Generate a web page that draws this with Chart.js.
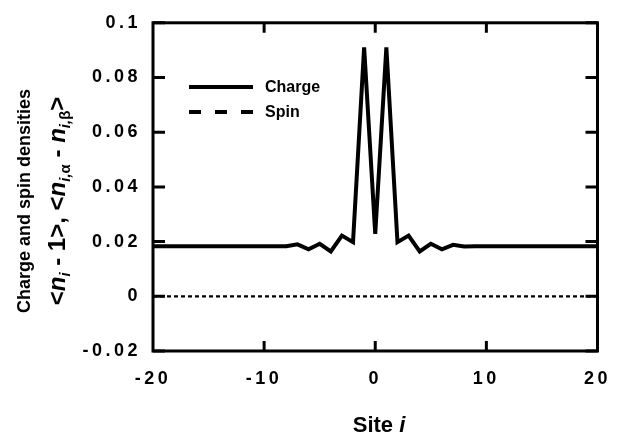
<!DOCTYPE html>
<html><head><meta charset="utf-8">
<script src="https://cdn.jsdelivr.net/npm/chart.js@4/dist/chart.umd.min.js"></script>
<style>html,body{margin:0;padding:0;background:#fff}</style>
</head><body>
<canvas id="c" width="628" height="436"></canvas>
<script>
// ---- data ----
const sites = [-20,-19,-18,-17,-16,-15,-14,-13,-12,-11,-10,-9,-8,-7,-6,-5,-4,-3,-2,-1,0,1,2,3,4,5,6,7,8,9,10,11,12,13,14,15,16,17,18,19,20];
const charge = [0.0183,0.0183,0.0183,0.0183,0.0183,0.0183,0.0183,0.0183,0.0183,0.0183,0.0183,0.0183,0.0183,0.0190,0.0172,0.0192,0.0164,0.0222,0.0198,0.0910,0.0228,0.0910,0.0198,0.0222,0.0164,0.0192,0.0172,0.0188,0.0182,0.0183,0.0183,0.0183,0.0183,0.0183,0.0183,0.0183,0.0183,0.0183,0.0183,0.0183,0.0183];
const spin = [0,0,0,0,0,0,0,0,0,0,0,0,0,0,0,0,0,0,0,0,0,0,0,0,0,0,0,0,0,0,0,0,0,0,0,0,0,0,0,0,0];
const xTicks = [-20,-10,0,10,20];
const xTickLabels = ['-20','-10','0','10','20'];
const yTicks = [-0.02,0,0.02,0.04,0.06,0.08,0.1];
const yTickLabels = ['-0.02','0','0.02','0.04','0.06','0.08','0.1'];
const seriesNames = ['Charge','Spin'];

const FONT = '"Liberation Sans", Arial, Helvetica, sans-serif';

const frame = {
  id: 'frame',
  beforeUpdate(chart) { chart.ctx.letterSpacing = '3.5px'; },
  afterDraw(chart) {
    const ctx = chart.ctx, a = chart.chartArea, xs = chart.scales.x, ys = chart.scales.y;
    ctx.save();
    ctx.letterSpacing = '0px';
    ctx.strokeStyle = '#000';
    ctx.lineWidth = 3;
    ctx.setLineDash([]);
    ctx.strokeRect(a.left, a.top, a.right - a.left, a.bottom - a.top);
    ctx.beginPath();
    yTicks.forEach(v => { const y = ys.getPixelForValue(v);
      ctx.moveTo(a.left, y); ctx.lineTo(a.left + 12, y);
      ctx.moveTo(a.right, y); ctx.lineTo(a.right - 12, y); });
    xTicks.slice(1, -1).forEach(v => { const x = xs.getPixelForValue(v);
      ctx.moveTo(x, a.top); ctx.lineTo(x, a.top + 10);
      ctx.moveTo(x, a.bottom); ctx.lineTo(x, a.bottom - 10); });
    ctx.stroke();

    // legend
    ctx.lineWidth = 4;
    ctx.beginPath(); ctx.moveTo(189, 87); ctx.lineTo(253, 87); ctx.stroke();
    ctx.setLineDash([12, 14]);
    ctx.beginPath(); ctx.moveTo(189, 112); ctx.lineTo(253, 112); ctx.stroke();
    ctx.setLineDash([]);
    ctx.fillStyle = '#000';
    ctx.font = 'bold 16px ' + FONT;
    ctx.textAlign = 'left'; ctx.textBaseline = 'middle';
    ctx.fillText(seriesNames[0], 265, 88);
    ctx.fillText(seriesNames[1], 265, 113);

    // x title
    ctx.font = 'bold 22px ' + FONT;
    ctx.textBaseline = 'alphabetic';
    const w1 = ctx.measureText('Site ').width;
    ctx.font = 'bold italic 22px ' + FONT;
    const w2 = ctx.measureText('i').width;
    let sx = 379 - (w1 + w2) / 2;
    ctx.font = 'bold 22px ' + FONT;
    ctx.fillText('Site ', sx, 432);
    ctx.font = 'bold italic 22px ' + FONT;
    ctx.fillText('i', sx + w1, 432);

    // y title line 1
    ctx.save();
    ctx.translate(25, 201);
    ctx.rotate(-Math.PI / 2);
    ctx.font = 'bold 18px ' + FONT;
    ctx.textAlign = 'center'; ctx.textBaseline = 'middle';
    ctx.fillText('Charge and spin densities', 0, 0);
    ctx.restore();

    // y title line 2 with subscripts
    const segs = [
      ['<', 'bold', 24, 0], ['n', 'bold italic', 24, 0], ['i', 'bold italic', 15, 5],
      [' - 1>, <', 'bold', 24, 0], ['n', 'bold italic', 24, 0], ['i,', 'bold italic', 15, 5], ['\u03B1', 'bold', 15, 5],
      [' - ', 'bold', 24, 0], ['n', 'bold italic', 24, 0], ['i,', 'bold italic', 15, 5], ['\u03B2', 'bold', 15, 5],
      ['>', 'bold', 24, 0]
    ];
    let total = 0;
    segs.forEach(s => { ctx.font = s[1] + ' ' + s[2] + 'px ' + FONT; total += ctx.measureText(s[0]).width; });
    ctx.save();
    ctx.translate(65, 201);
    ctx.rotate(-Math.PI / 2);
    ctx.textAlign = 'left'; ctx.textBaseline = 'alphabetic';
    let px = -total / 2;
    segs.forEach(s => { ctx.font = s[1] + ' ' + s[2] + 'px ' + FONT; ctx.fillText(s[0], px, s[3]); px += ctx.measureText(s[0]).width; });
    ctx.restore();

    ctx.restore();
  }
};

new Chart(document.getElementById('c'), {
  type: 'line',
  data: {
    datasets: [
      { label: seriesNames[0], data: sites.map((s, i) => ({ x: s, y: charge[i] })),
        borderColor: '#000', borderWidth: 4, pointRadius: 0, tension: 0, fill: false,
        borderJoinStyle: 'miter', borderCapStyle: 'butt' },
      { label: seriesNames[1], data: sites.map((s, i) => ({ x: s, y: spin[i] })),
        borderColor: '#000', borderWidth: 2.2, borderDash: [4, 3], pointRadius: 0, tension: 0, fill: false }
    ]
  },
  options: {
    responsive: false,
    animation: false,
    layout: { padding: { top: 15, right: 14, left: 0, bottom: 0 } },
    plugins: { legend: { display: false }, tooltip: { enabled: false } },
    scales: {
      x: {
        type: 'linear', min: -20, max: 20,
        afterBuildTicks: s => { s.ticks = xTicks.map(v => ({ value: v })); },
        afterFit: s => { s.height = 85; },
        ticks: { color: '#000', font: { family: FONT, size: 18, weight: 'bold' }, padding: 17,
          callback: (v, i) => xTickLabels[i] },
        grid: { display: false, drawTicks: false },
        border: { display: false }
      },
      y: {
        type: 'linear', min: -0.02, max: 0.1,
        afterBuildTicks: s => { s.ticks = yTicks.map(v => ({ value: v })); },
        afterFit: s => { s.width = 153; },
        ticks: { color: '#000', font: { family: FONT, size: 18, weight: 'bold' }, padding: 12,
          callback: (v, i) => yTickLabels[i] },
        grid: { display: false, drawTicks: false },
        border: { display: false }
      }
    }
  },
  plugins: [frame]
});
</script>
</body></html>
